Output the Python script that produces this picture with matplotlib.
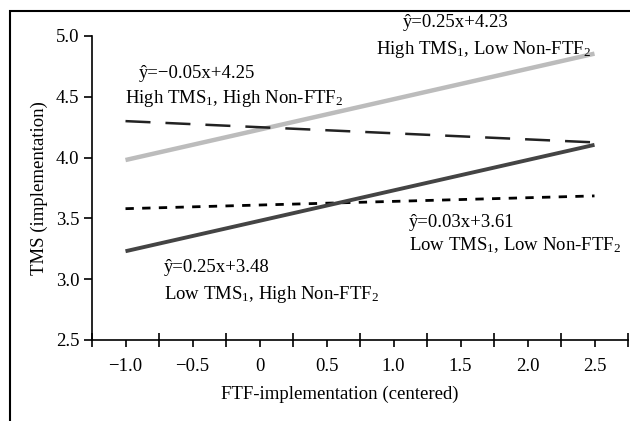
import matplotlib
matplotlib.use("Agg")
import matplotlib.pyplot as plt
from matplotlib.patches import Rectangle
from matplotlib.ticker import FixedLocator

plt.rcParams['font.family'] = ['Liberation Serif', 'DejaVu Serif']
plt.rcParams['mathtext.fontset'] = 'custom'
plt.rcParams['mathtext.rm'] = 'Liberation Serif'
plt.rcParams['mathtext.it'] = 'Liberation Serif:italic'

# Data: line endpoints at x = -1.0 and x = 2.5
x_ends = [-1.0, 2.5]
high_tms_low_nonftf = [3.98, 4.855]
high_tms_high_nonftf = [4.30, 4.125]
low_tms_low_nonftf = [3.58, 3.685]
low_tms_high_nonftf = [3.23, 4.105]

x_ticks = [-1.0, -0.5, 0.0, 0.5, 1.0, 1.5, 2.0, 2.5]
y_ticks = [2.5, 3.0, 3.5, 4.0, 4.5, 5.0]
x_tick_labels = ["−1.0", "−0.5", "0", "0.5", "1.0", "1.5", "2.0", "2.5"]
y_tick_labels = ["2.5", "3.0", "3.5", "4.0", "4.5", "5.0"]

eq_labels = ["ŷ=0.25x+4.23", "ŷ=−0.05x+4.25", "ŷ=0.03x+3.61", "ŷ=0.25x+3.48"]
group_labels = ["High TMS$_1$, Low Non-FTF$_2$", "High TMS$_1$, High Non-FTF$_2$",
                "Low TMS$_1$, Low Non-FTF$_2$", "Low TMS$_1$, High Non-FTF$_2$"]

fig = plt.figure(figsize=(6.3, 4.21), dpi=100)
ax = fig.add_axes([92/630, 1-340/421, (628-92)/630, (340-36)/421])

ax.plot(x_ends, high_tms_low_nonftf, color='#bcbcbc', lw=3.2, solid_capstyle='butt')
ax.plot(x_ends, high_tms_high_nonftf, color='#222222', lw=1.8, dashes=(10, 6))
ax.plot(x_ends, low_tms_low_nonftf, color='#000000', lw=2.0, dashes=(3, 3))
ax.plot(x_ends, low_tms_high_nonftf, color='#444444', lw=2.8, solid_capstyle='butt')

ax.set_xlim(-1.25, 2.75)
ax.set_ylim(2.5, 5.0)
ax.xaxis.set_major_locator(FixedLocator(x_ticks))
ax.xaxis.set_minor_locator(FixedLocator([-1.25 + 0.5*i for i in range(9)]))
ax.yaxis.set_major_locator(FixedLocator(y_ticks))
ax.set_xticklabels(x_tick_labels)
ax.set_yticklabels(y_tick_labels)
ax.tick_params(axis='x', which='major', direction='out', length=5, width=1.2, labelsize=13.5, pad=8)
ax.tick_params(axis='x', which='minor', direction='inout', length=10, width=1.2)
ax.tick_params(axis='y', which='major', direction='out', length=6, width=1.2, labelsize=13.5, pad=3)

for s in ['top', 'right']:
    ax.spines[s].set_visible(False)
for s in ['left', 'bottom']:
    ax.spines[s].set_linewidth(1.2)

ax.set_xlabel("FTF-implementation (centered)", fontsize=13.5, labelpad=6)
ax.xaxis.set_label_coords(0.463, -0.15)
ax.set_ylabel("TMS (implementation)", fontsize=13.5, labelpad=6)

fs = 13.5
pos_eq = [(1.067, 5.107), (-0.903, 4.689), (1.112, 3.467), (-0.716, 3.098)]
pos_gr = [(0.873, 4.893), (-1.007, 4.484), (1.112, 3.279), (-0.716, 2.877)]
for (px, py), t in zip(pos_eq, eq_labels):
    ax.text(px, py, t, fontsize=fs, ha='left', va='center', clip_on=False)
for (px, py), t in zip(pos_gr, group_labels):
    ax.text(px, py, t, fontsize=fs, ha='left', va='center', clip_on=False)

fig.patches.append(Rectangle((10/630, -0.1), 1.2, 1.1 - 11/421, transform=fig.transFigure,
                             fill=False, lw=1.5, edgecolor='black'))

fig.savefig("out.png", dpi=100)
